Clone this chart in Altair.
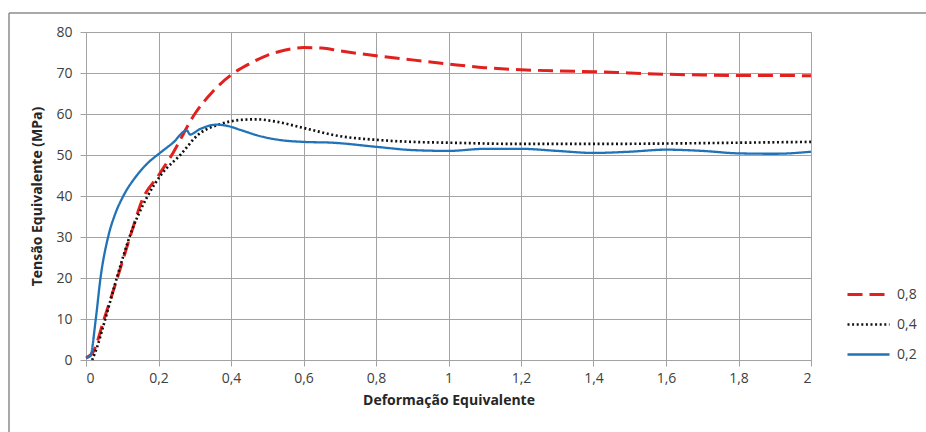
import altair as alt
import pandas as pd

# ---- data ----
series_names = ["0,8", "0,4", "0,2"]

x_08 = [0.0, 0.02, 0.05, 0.09, 0.125, 0.155, 0.2, 0.24, 0.3, 0.35, 0.4, 0.45, 0.5, 0.55,
        0.6, 0.65, 0.7, 0.8, 0.9, 1.0, 1.1, 1.2, 1.3, 1.4, 1.5, 1.6, 1.7, 1.8, 1.9, 2.0]
y_08 = [0.5, 2.0, 10.0, 21.0, 31.0, 39.0, 45.0, 50.5, 60.0, 65.5, 69.5, 72.2, 74.3, 75.6,
        76.2, 76.1, 75.4, 74.2, 73.2, 72.2, 71.3, 70.8, 70.5, 70.3, 70.0, 69.7, 69.5, 69.4, 69.4, 69.3]

x_04 = [0.017, 0.03, 0.05, 0.085, 0.12, 0.17, 0.21, 0.26, 0.31, 0.37, 0.42, 0.47, 0.52,
        0.6, 0.7, 0.8, 0.9, 1.0, 1.2, 1.4, 1.6, 1.8, 2.0]
y_04 = [0.0, 3.0, 9.0, 20.0, 30.0, 40.0, 45.5, 50.0, 55.0, 57.5, 58.5, 58.7, 58.2,
        56.6, 54.6, 53.7, 53.2, 53.0, 52.7, 52.7, 52.8, 53.0, 53.2]

x_02 = [0.0, 0.012, 0.027, 0.04, 0.061, 0.08, 0.103, 0.14, 0.17, 0.204, 0.24, 0.278, 0.287,
        0.314, 0.36, 0.39, 0.43, 0.48, 0.54, 0.6, 0.68, 0.8, 0.9, 1.0, 1.1, 1.2, 1.3, 1.4,
        1.5, 1.6, 1.7, 1.8, 1.9, 2.0]
y_02 = [0.5, 1.0, 10.0, 20.0, 30.0, 35.5, 40.0, 45.0, 48.0, 50.5, 53.0, 56.0, 55.0,
        56.3, 57.4, 57.1, 56.0, 54.6, 53.6, 53.2, 53.0, 52.0, 51.2, 51.0, 51.5, 51.5, 51.0, 50.5,
        50.8, 51.3, 51.0, 50.4, 50.3, 50.8]

x_ticks = [0, 0.2, 0.4, 0.6, 0.8, 1.0, 1.2, 1.4, 1.6, 1.8, 2.0]
y_ticks = [0, 10, 20, 30, 40, 50, 60, 70, 80]

rows = []
for name, xs, ys in [("0,8", x_08, y_08), ("0,4", x_04, y_04), ("0,2", x_02, y_02)]:
    for xv, yv in zip(xs, ys):
        rows.append({"serie": name, "deformacao": xv, "tensao": yv})
df = pd.DataFrame(rows)

FONT = "Open Sans"
GRID = "#A3A3A3"
LABEL = "#404040"

legend = alt.Legend(
    title=None, orient="none", legendX=760, legendY=240,
    symbolType="stroke", symbolSize=1764, labelFontSize=14, labelFont=FONT,
    labelColor=LABEL, labelOffset=6, rowPadding=-14,
)

lines = alt.Chart(df).mark_line(interpolate="monotone", strokeCap="butt").encode(
    x=alt.X("deformacao:Q",
            scale=alt.Scale(domain=[0, 2], nice=False),
            axis=alt.Axis(values=x_ticks, title="Deformação Equivalente",
                          labelExpr="replace(format(datum.value, '~g'), '.', ',')")),
    y=alt.Y("tensao:Q",
            scale=alt.Scale(domain=[0, 80], nice=False),
            axis=alt.Axis(values=y_ticks, title="Tensão Equivalente (MPa)")),
    color=alt.Color("serie:N",
                    scale=alt.Scale(domain=series_names,
                                    range=["#E0211D", "#111111", "#2272B8"]),
                    legend=legend),
    strokeDash=alt.StrokeDash("serie:N",
                              scale=alt.Scale(domain=series_names,
                                              range=[[15, 7], [2, 2.6], [1, 0]]),
                              legend=legend),
    strokeWidth=alt.StrokeWidth("serie:N",
                                scale=alt.Scale(domain=series_names, range=[3.0, 2.3, 3.0]),
                                legend=legend),
)

frame_data = pd.DataFrame({"k": [0]})
frame_top = alt.Chart(frame_data).mark_rule(stroke="#8C8C8C", strokeWidth=1.5).encode(
    x=alt.value(-77), x2=alt.value(860), y=alt.value(-19)
)
frame_left = alt.Chart(frame_data).mark_rule(stroke="#8C8C8C", strokeWidth=1.5).encode(
    x=alt.value(-77), y=alt.value(-19), y2=alt.value(420)
)

chart = alt.layer(frame_top, frame_left, lines).properties(
    width=725, height=328,
    autosize=alt.AutoSizeParams(type="none"),
    padding={"left": 86, "top": 32, "right": 115, "bottom": 72},
    background="white",
).configure_view(
    stroke=GRID, strokeWidth=1
).configure_axis(
    grid=True, gridColor=GRID, gridWidth=1,
    domainColor=GRID, tickColor=GRID, tickSize=6,
    labelFont=FONT, labelFontSize=14, labelColor=LABEL,
    titleFont=FONT, titleFontSize=14, titleFontWeight="bold", titleColor="#262626",
)
chart = chart.configure_axisX(labelPadding=5, titlePadding=8)
chart = chart.configure_axisY(labelPadding=8, titlePadding=11)

chart.save("out.html", embed_options={"renderer": "svg", "actions": False})
